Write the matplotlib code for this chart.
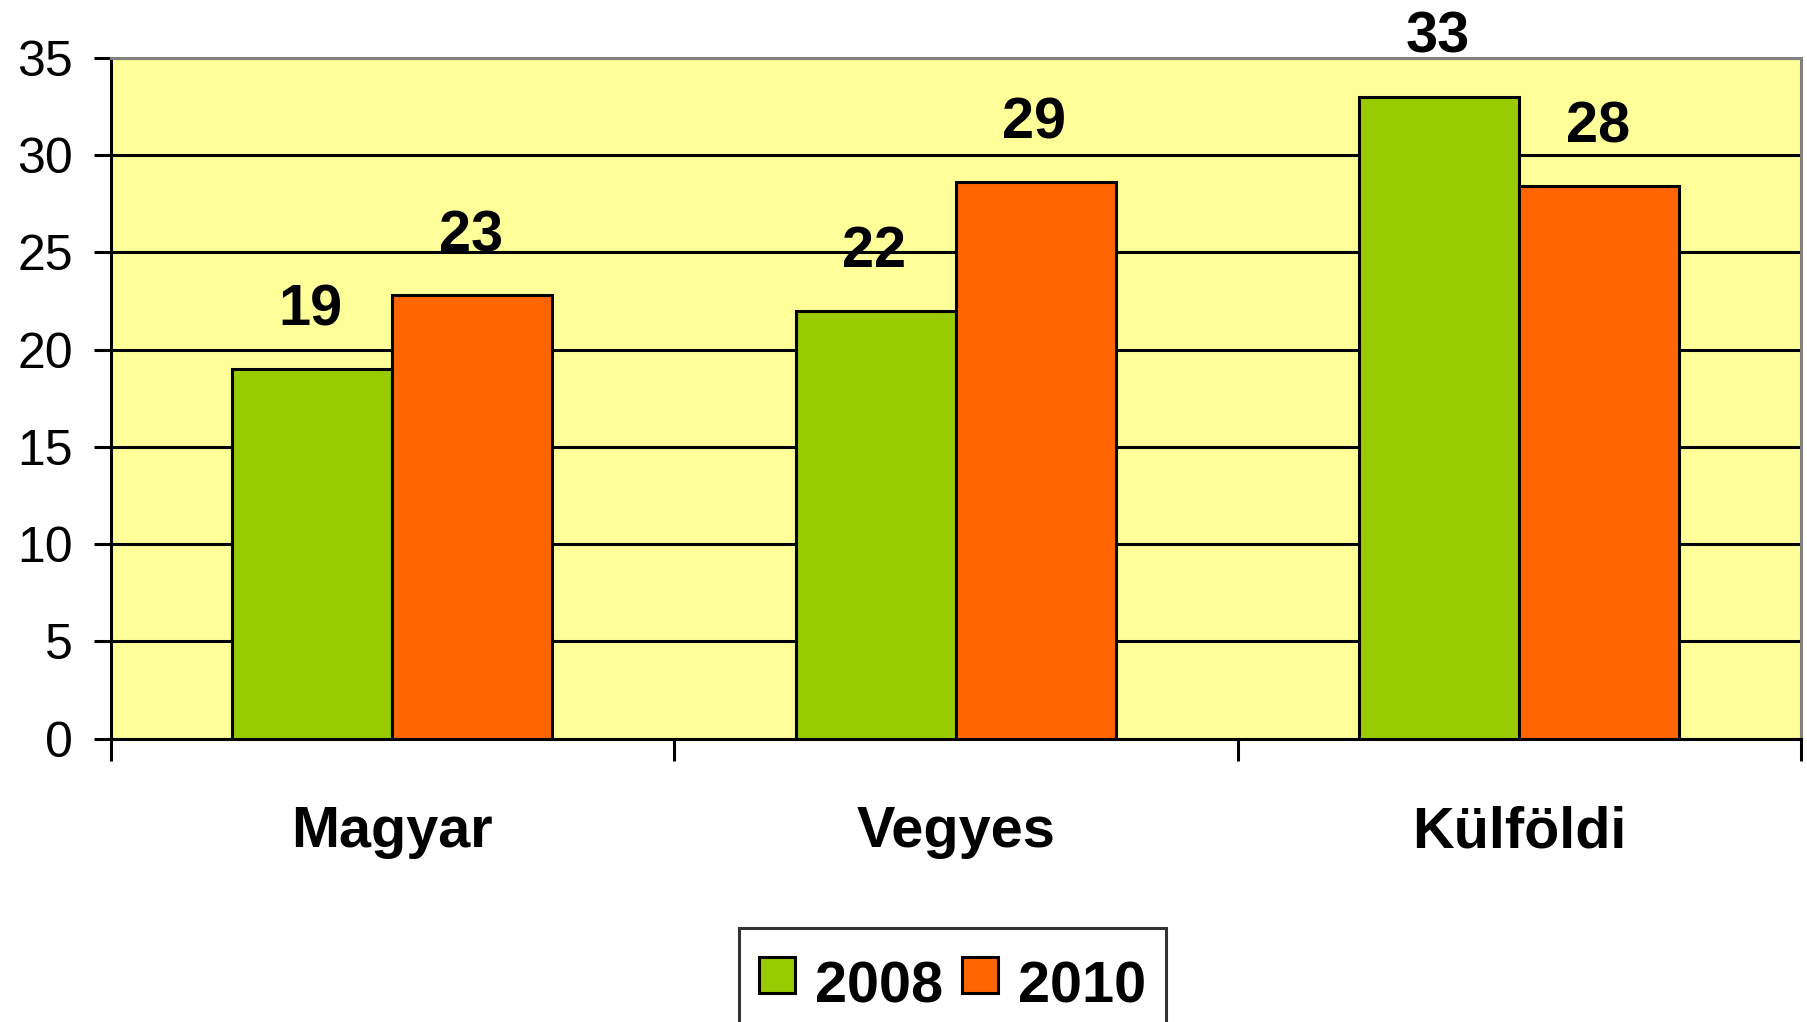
import matplotlib
matplotlib.use("Agg")
import matplotlib.pyplot as plt
import numpy as np
from matplotlib.lines import Line2D

categories = ["Magyar", "Vegyes", "Külföldi"]
series_names = ["2008", "2010"]
values_2008 = [19.0, 22.0, 33.0]
values_2010 = [22.8, 28.6, 28.4]
labels_2008 = ["19", "22", "33"]
labels_2010 = ["23", "29", "28"]
yticks = [0, 5, 10, 15, 20, 25, 30, 35]

green = "#99CC00"
orange = "#FF6600"
bg = "#FFFF99"

plt.rcParams['font.family'] = ['Liberation Sans', 'DejaVu Sans']

fig = plt.figure(figsize=(18.07, 10.22), dpi=100)
ax = fig.add_axes([0.0612, 0.2772, 0.9355, 0.6664])
ax.set_facecolor(bg)

x = np.arange(len(categories))
w = 0.284
lw = 2.2
b1 = ax.bar(x - w/2, values_2008, w, color=green, edgecolor="black", linewidth=lw, zorder=3)
b2 = ax.bar(x + w/2, values_2010, w, color=orange, edgecolor="black", linewidth=lw, zorder=3)

for bars, labs in ((b1, labels_2008), (b2, labels_2010)):
    for r, t in zip(bars, labs):
        ax.annotate(t, (r.get_x() + r.get_width()/2, r.get_height()),
                    xytext=(-1, 31.5), textcoords="offset points",
                    ha="center", va="baseline", fontsize=41.5, fontweight="bold",
                    annotation_clip=False, zorder=5)

ax.set_xlim(-0.5, len(categories) - 0.5)
ax.set_ylim(0, 35)
ax.set_yticks(yticks)
ax.set_yticklabels([str(v) for v in yticks], fontsize=36)
ax.yaxis.grid(True, color="black", linewidth=2.2, zorder=1)
ax.set_axisbelow(True)

ax.set_xticks(x)
ax.set_xticklabels(categories, fontsize=41.5, fontweight="bold")
ax.set_xticks(np.arange(-0.5, len(categories)), minor=True)
ax.tick_params(axis="x", which="major", length=0, pad=48)
ax.tick_params(axis="x", which="minor", length=15.6, width=2.2, direction="out")
ax.tick_params(axis="y", length=12, width=2.2, direction="out", pad=15)

for s in ("left", "bottom"):
    ax.spines[s].set_color("black")
    ax.spines[s].set_linewidth(2.2)
for s in ("top", "right"):
    ax.spines[s].set_color("#808080")
    ax.spines[s].set_linewidth(2.2)

handles = [Line2D([], [], linestyle="None", marker="s", markersize=26.6,
                  markerfacecolor=c, markeredgecolor="black", markeredgewidth=2.2)
           for c in (green, orange)]
leg = fig.legend(handles, series_names, loc="upper center",
                 bbox_to_anchor=(0.5271, 0.092), ncol=2, frameon=True,
                 fancybox=False, edgecolor="black",
                 prop={"size": 41.5, "weight": "bold"},
                 handlelength=0.64, handleheight=1.6, handletextpad=0.35,
                 columnspacing=0.31, borderpad=0.33, borderaxespad=0)
leg.get_frame().set_linewidth(2.2)

fig.savefig("out.png", dpi=100, facecolor="white")
